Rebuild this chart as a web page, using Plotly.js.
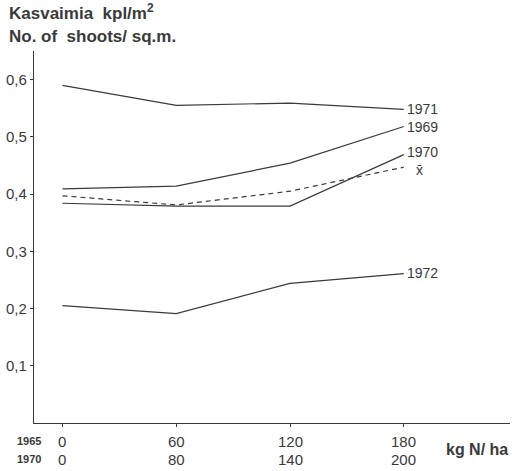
<!DOCTYPE html>
<html>
<head>
<meta charset="utf-8">
<script src="https://cdn.plot.ly/plotly-3.0.1.min.js"></script>
<style>html,body{margin:0;padding:0;background:#fff;}</style>
</head>
<body>
<div id="chart" style="width:512px;height:471px;"></div>
<script>
// Nitrogen rate (kg N/ha), 1965 scale and 1970 scale
const nRates1965 = [0, 60, 120, 180];
const nRates1970 = [0, 80, 140, 200];

// Shoots per square metre
const seriesNames = ['1971', '1969', '1970', 'x̄', '1972'];
const s1971 = [0.590, 0.555, 0.559, 0.548];
const s1969 = [0.409, 0.414, 0.454, 0.518];
const s1970 = [0.384, 0.379, 0.379, 0.469];
const sMean = [0.397, 0.381, 0.405, 0.447];
const s1972 = [0.205, 0.191, 0.244, 0.261];

const allSeries = [s1971, s1969, s1970, sMean, s1972];
const dashes = ['solid', 'solid', 'solid', '5px,4px', 'solid'];
const labelShift = [0, 0, 3, -3, 1];
const labelXShift = [1, 1, 1, 10, 1];

const ink = '#3a3a3a';
const fontFam = '"Liberation Sans", Arial, sans-serif';

const traces = allSeries.map((vals, i) => ({
  x: nRates1965,
  y: vals,
  type: 'scatter',
  mode: 'lines',
  name: seriesNames[i],
  line: {color: ink, width: 1.2, dash: dashes[i]},
  hoverinfo: 'skip'
}));

const annotations = [];
allSeries.forEach((vals, i) => {
  annotations.push({
    x: nRates1965[nRates1965.length - 1], y: vals[vals.length - 1],
    xref: 'x', yref: 'y', text: seriesNames[i], showarrow: false,
    xanchor: 'left', yanchor: 'middle', xshift: labelXShift[i], yshift: labelShift[i],
    font: {family: fontFam, size: 14, color: ink}
  });
});
// two rows of x tick labels
nRates1965.forEach((v, i) => {
  annotations.push({x: v, y: 0, xref: 'x', yref: 'paper', text: String(v), showarrow: false,
    xanchor: 'center', yanchor: 'middle', yshift: -18,
    font: {family: fontFam, size: 15, color: ink}});
  annotations.push({x: v, y: 0, xref: 'x', yref: 'paper', text: String(nRates1970[i]), showarrow: false,
    xanchor: 'center', yanchor: 'middle', yshift: -36,
    font: {family: fontFam, size: 15, color: ink}});
});
annotations.push({x: 0, y: 0, xref: 'paper', yref: 'paper', text: '<b>1965</b>', showarrow: false,
  xanchor: 'left', yanchor: 'middle', xshift: -19, yshift: -18,
  font: {family: fontFam, size: 11, color: ink}});
annotations.push({x: 0, y: 0, xref: 'paper', yref: 'paper', text: '<b>1970</b>', showarrow: false,
  xanchor: 'left', yanchor: 'middle', xshift: -19, yshift: -36,
  font: {family: fontFam, size: 11, color: ink}});
annotations.push({x: 1, y: 0, xref: 'paper', yref: 'paper', text: '<b>kg N/ ha</b>', showarrow: false,
  xanchor: 'right', yanchor: 'middle', xshift: 0, yshift: -26,
  font: {family: fontFam, size: 16, color: ink}});
annotations.push({x: 0, y: 1, xref: 'paper', yref: 'paper', text: '<b>Kasvaimia  kpl/m<sup>2</sup></b>', showarrow: false,
  xanchor: 'left', yanchor: 'middle', xshift: -27, yshift: 39,
  font: {family: fontFam, size: 17, color: ink}});
annotations.push({x: 0, y: 1, xref: 'paper', yref: 'paper', text: '<b>No. of  shoots/ sq.m.</b>', showarrow: false,
  xanchor: 'left', yanchor: 'middle', xshift: -27, yshift: 15,
  font: {family: fontFam, size: 17, color: ink}});

const yTicks = [0.1, 0.2, 0.3, 0.4, 0.5, 0.6];

const layout = {
  width: 512, height: 471,
  margin: {l: 34, r: 2, t: 51, b: 48, pad: 0},
  paper_bgcolor: '#fff', plot_bgcolor: '#fff',
  showlegend: false,
  separators: ', ',
  xaxis: {
    range: [-15, 236], showgrid: false, zeroline: false,
    showline: true, linecolor: ink, linewidth: 1.2,
    ticks: 'outside', ticklen: 3, tickcolor: ink, tickvals: nRates1965,
    showticklabels: false
  },
  yaxis: {
    range: [0, 0.65], showgrid: false, zeroline: false,
    showline: true, linecolor: ink, linewidth: 1.2,
    ticks: 'outside', ticklen: 3, tickcolor: ink,
    tickvals: yTicks, tickformat: '.1f',
    tickfont: {family: fontFam, size: 15, color: ink}
  },
  annotations: annotations
};

Plotly.newPlot('chart', traces, layout, {staticPlot: true, displayModeBar: false});
</script>
</body>
</html>
